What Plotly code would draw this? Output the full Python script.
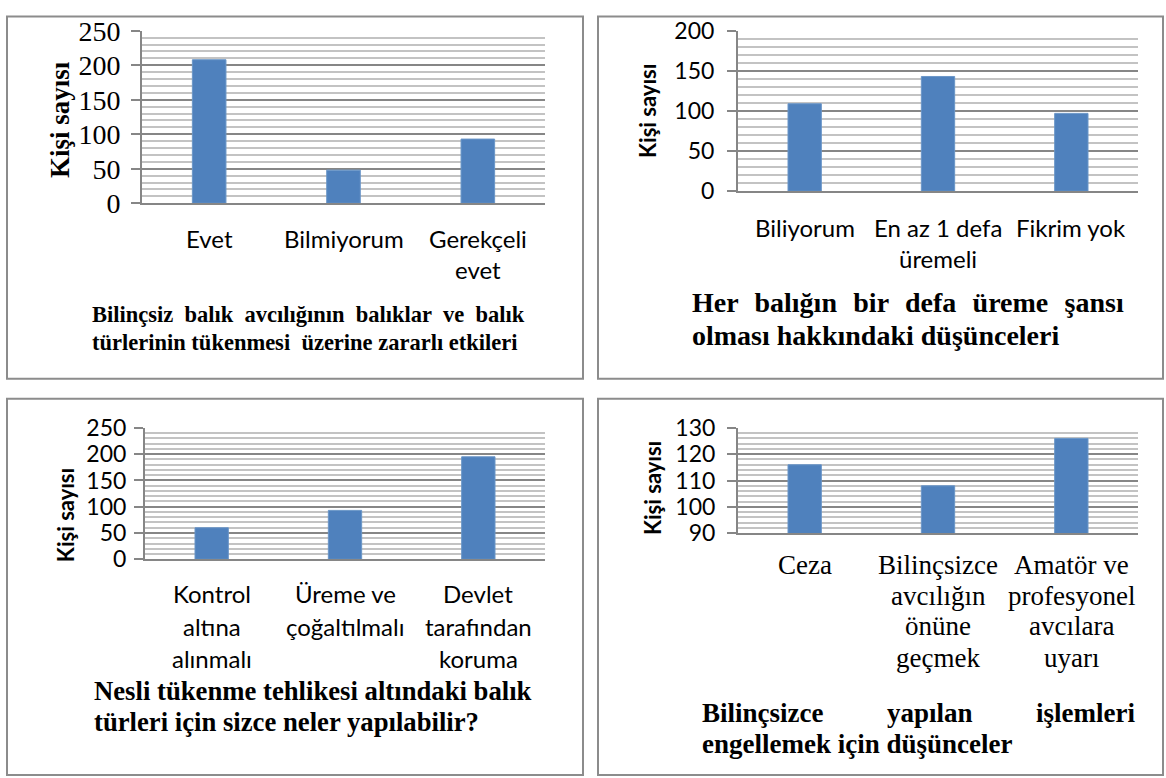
import plotly.graph_objects as go

W, H = 1166, 811
# the photographed page comes out slightly squeezed vertically; these undo it
Y_SHIFT, Y_SCALE = 15.3, 0.959

# data
cats_1 = ["Evet", "Bilmiyorum", "Gerekçeli<br>evet"]
vals_1 = [208, 48, 93]
cats_2 = ["Biliyorum", "En az 1 defa<br>üremeli", "Fikrim yok"]
vals_2 = [109, 143, 97]
cats_3 = ["Kontrol<br>altına<br>alınmalı", "Üreme ve<br>çoğaltılmalı", "Devlet<br>tarafından<br>koruma"]
vals_3 = [60, 93, 195]
cats_4 = ["Ceza", "Bilinçsizce<br>avcılığın<br>önüne<br>geçmek", "Amatör ve<br>profesyonel<br>avcılara<br>uyarı"]
vals_4 = [116, 108, 126]

y_title = "Kişi sayısı"
NB = "\u00a0"
GAP = " " + NB

captions_1 = [GAP.join(["Bilinçsiz", "balık", "avcılığının", "balıklar", "ve", "balık"]),
              "türlerinin tükenmesi " + NB + "üzerine zararlı etkileri"]
captions_2 = [(GAP + "\u200a").join(["Her", "balığın", "bir", "defa", "üreme", "şansı"]),
              "olması hakkındaki düşünceleri"]
captions_3 = ["Nesli tükenme tehlikesi altındaki balık",
              "türleri için sizce neler yapılabilir?"]
captions_4 = [["Bilinçsizce", "yapılan", "işlemleri"],
              "engellemek için düşünceler"]

SERIF = "Liberation Serif"
SANS = "Lato"
BAR = "#4F81BD"
MAJOR = "#868686"
MINOR = "#C3C3C3"


def px(x):
    return x / W


def py(y):
    y = (y - Y_SHIFT) / Y_SCALE
    return min(1.0, max(0.0, 1 - y / H))


panels = [
    dict(n=1, cats=cats_1, vals=vals_1, x0=142, x1=545, yt=31, yb=203, rng=[0, 250], dt=50, mdt=10,
         tick_font=dict(family=SERIF, size=28, color="black"), standoff=5,
         lab_font=dict(family=SANS, size=24, color="black"), lab_y=[238, 269],
         title_font=dict(family=SERIF, size=27, color="black"), title_xy=(60, 120),
         caps=captions_1, cap_font=dict(family=SERIF, size=22.5, color="black"), cap_x=90, cap_x1=528,
         cap_y=[314, 342]),
    dict(n=2, cats=cats_2, vals=vals_2, x0=738, x1=1138, yt=31, yb=191, rng=[0, 200], dt=50, mdt=10,
         tick_font=dict(family=SANS, size=23, color="black"), standoff=8,
         lab_font=dict(family=SANS, size=24, color="black"), lab_y=[227, 258],
         title_font=dict(family=SANS, size=22, color="black"), title_xy=(648, 111),
         caps=captions_2, cap_font=dict(family=SERIF, size=28, color="black"), cap_x=690, cap_x1=1128,
         cap_y=[302, 335]),
    dict(n=3, cats=cats_3, vals=vals_3, x0=145, x1=545, yt=427, yb=558, rng=[0, 250], dt=50, mdt=10,
         tick_font=dict(family=SANS, size=23, color="black"), standoff=3,
         lab_font=dict(family=SANS, size=24, color="black"), lab_y=[592, 625, 657],
         title_font=dict(family=SANS, size=22, color="black"), title_xy=(65, 514),
         caps=captions_3, cap_font=dict(family=SERIF, size=26.7, color="black"), cap_x=92, cap_x1=532,
         cap_y=[689, 720]),
    dict(n=4, cats=cats_4, vals=vals_4, x0=738, x1=1138, yt=427, yb=532, rng=[90, 130], dt=10, mdt=2,
         tick_font=dict(family=SANS, size=23, color="black"), standoff=7,
         lab_font=dict(family=SERIF, size=27, color="black"), lab_y=[564, 595, 625, 656],
         title_font=dict(family=SANS, size=22, color="black"), title_xy=(652, 487),
         caps=captions_4, cap_font=dict(family=SERIF, size=27, color="black"), cap_x=700, cap_x1=1137,
         cap_mid=930, cap_y=[711, 742]),
]

fig = go.Figure()
annotations = []
shapes = []

for p in panels:
    n = p["n"]
    xa = "x" if n == 1 else "x%d" % n
    ya = "y" if n == 1 else "y%d" % n
    fig.add_trace(go.Bar(
        x=p["cats"], y=p["vals"], xaxis=xa, yaxis=ya,
        marker=dict(color=BAR, line=dict(color="#6A96C8", width=1)),
        width=0.25, showlegend=False, hoverinfo="x+y",
    ))
    key = "" if n == 1 else str(n)
    fig.update_layout(**{
        "xaxis" + key: dict(
            domain=[px(p["x0"]), px(p["x1"])], anchor=ya, showticklabels=False,
            showline=True, linecolor=MAJOR, linewidth=2, showgrid=False, ticks="",
            range=[-0.5, 2.5], fixedrange=True,
        ),
        "yaxis" + key: dict(
            domain=[py(p["yb"]), py(p["yt"])], anchor=xa, range=p["rng"], dtick=p["dt"],
            tick0=p["rng"][0], showline=True, linecolor=MAJOR, linewidth=2,
            ticks="outside", ticklen=9, tickwidth=2, tickcolor=MAJOR,
            showgrid=True, gridcolor=MAJOR, gridwidth=2, zeroline=False,
            minor=dict(dtick=p["mdt"], showgrid=True, gridcolor=MINOR, gridwidth=2, ticks=""),
            tickfont=p["tick_font"], ticklabelstandoff=p["standoff"], fixedrange=True,
        ),
    })
    # multi-line category labels, one annotation per line
    for cat in p["cats"]:
        for i, line in enumerate(cat.split("<br>")):
            annotations.append(dict(
                x=cat, xref=xa, y=py(p["lab_y"][i]), yref="paper", text=line,
                showarrow=False, xanchor="center", yanchor="middle", font=p["lab_font"],
            ))
    tx, ty = p["title_xy"]
    annotations.append(dict(
        x=px(tx), y=py(ty), xref="paper", yref="paper", text="<b>%s</b>" % y_title,
        textangle=-90, showarrow=False, xanchor="center", yanchor="middle", font=p["title_font"],
    ))
    for i, line in enumerate(p["caps"]):
        if isinstance(line, list):
            # fully justified three-word line: left, middle, right
            xs = [(px(p["cap_x"]), "left"), (px(p["cap_mid"]), "center"), (px(p["cap_x1"]), "right")]
            for word, (wx, anc) in zip(line, xs):
                annotations.append(dict(
                    x=wx, y=py(p["cap_y"][i]), xref="paper", yref="paper",
                    text="<b>%s</b>" % word, showarrow=False, xanchor=anc, yanchor="middle",
                    font=p["cap_font"],
                ))
            continue
        annotations.append(dict(
            x=px(p["cap_x"]), y=py(p["cap_y"][i]), xref="paper", yref="paper",
            text="<b>%s</b>" % line, showarrow=False, xanchor="left", yanchor="middle",
            font=p["cap_font"],
        ))

# frames around each chart
for bx0, by0, bx1, by1 in [(7, 1, 583, 378), (598, 1, 1163, 378), (7, 398, 583, 773), (598, 398, 1163, 773)]:
    shapes.append(dict(type="rect", xref="paper", yref="paper",
                       x0=px(bx0), x1=px(bx1), y0=max(py(by1), 0.002), y1=min(py(by0), 0.998),
                       line=dict(color="#8C8C8C", width=2), fillcolor="rgba(0,0,0,0)"))

fig.update_layout(
    width=W, height=H, margin=dict(l=0, r=0, t=0, b=0),
    paper_bgcolor="white", plot_bgcolor="white",
    bargap=0.75, annotations=annotations, shapes=shapes,
)

# drop the default body margin so the figure fills the window exactly
fig.write_html("out.html", config={"displayModeBar": False},
               post_script="document.body.style.margin='0';document.body.style.overflow='hidden';")
